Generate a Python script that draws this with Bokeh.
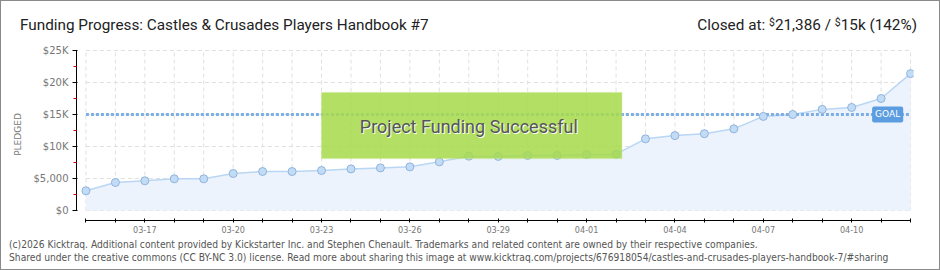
import html
from bokeh.plotting import figure
from bokeh.models import FixedTicker, Label, BoxAnnotation, Range1d, Div
from bokeh.layouts import column
from bokeh.embed import file_html
from bokeh.resources import INLINE

# ---------------- data ----------------
dates = ["03-15", "03-16", "03-17", "03-18", "03-19", "03-20", "03-21", "03-22",
         "03-23", "03-24", "03-25", "03-26", "03-27", "03-28", "03-29", "03-30",
         "03-31", "04-01", "04-02", "04-03", "04-04", "04-05", "04-06", "04-07",
         "04-08", "04-09", "04-10", "04-11", "04-12"]
pledged = [3080, 4380, 4640, 4950, 4950, 5780, 6090, 6090, 6250, 6500, 6660, 6820,
           7600, 8490, 8450, 8600, 8600, 8750, 8800, 11200, 11700, 12000, 12760,
           14700, 15000, 15800, 16100, 17500, 21386]
x_tick_labels = ["03-17", "03-20", "03-23", "03-26", "03-29", "04-01", "04-04", "04-07", "04-10"]
y_ticks = [0, 5000, 10000, 15000, 20000, 25000]
y_tick_labels = ["$0", "$5,000", "$10K", "$15K", "$20K", "$25K"]
y_minor_ticks = [2500, 7500, 12500, 17500, 22500]
goal = 15000
title_text = "Funding Progress: Castles & Crusades Players Handbook #7"
closed_amount = "21,386"
goal_amount = "15k"
closed_pct = "142%"
success_text = "Project Funding Successful"
footer_1 = ("(c)2026 Kicktraq. Additional content provided by Kickstarter Inc. and Stephen Chenault. "
            "Trademarks and related content are owned by their respective companies.")
footer_2 = ("Shared under the creative commons (CC BY-NC 3.0) license. Read more about sharing this image at "
            "www.kicktraq.com/projects/676918054/castles-and-crusades-players-handbook-7/#sharing")

n = len(dates)
xs = list(range(n))
W = 938

p = figure(width=W, height=197, output_backend="svg", toolbar_location=None,
           x_range=Range1d(-0.32, 28.1), y_range=Range1d(-1562, 25312),
           min_border_left=75, min_border_right=26, min_border_top=7, min_border_bottom=18,
           margin=0)
p.xgrid.visible = False
p.ygrid.visible = False
p.outline_line_color = None
p.background_fill_color = "white"
p.border_fill_color = "white"

# grid (dashed, bounded to the data area)
p.segment(x0=xs, y0=[y_ticks[0]] * n, x1=xs, y1=[y_ticks[-1]] * n,
          line_color="#e0e0e0", line_dash="4 3", line_width=1)
p.segment(x0=[xs[0]] * len(y_ticks), y0=y_ticks, x1=[xs[-1]] * len(y_ticks), y1=y_ticks,
          line_color="#e0e0e0", line_dash="4 3", line_width=1)

# area, line
p.varea(x=xs, y1=[0] * n, y2=pledged, fill_color="#ecf3fc")
p.line(xs, pledged, line_color="#b9d6f4", line_width=1.5)
# goal line
p.line([xs[0], xs[-1]], [goal, goal], line_color="#7eaee6", line_width=3, line_dash="3 2")
# markers
p.scatter(xs, pledged, size=8, fill_color="#c3dcf6", line_color="#8fb3dd", line_width=1)

# success box
box = BoxAnnotation(left=8, right=18.2, bottom=8125, top=18440,
                    fill_color="#a6da4c", fill_alpha=0.86,
                    line_color="#c2e585", line_width=1.5, level="overlay")
p.add_layout(box)
p.add_layout(Label(x=13.0, y=13150, text=success_text, text_align="center", text_baseline="middle",
                   text_font="Roboto", text_font_size="18px", text_color="white",
                   x_offset=1, y_offset=-1, level="overlay"))
p.add_layout(Label(x=13.0, y=13150, text=success_text, text_align="center", text_baseline="middle",
                   text_font="Roboto", text_font_size="18px", text_color="#555555",
                   level="overlay"))

# goal tag
p.add_layout(Label(x=27.75, y=goal, text="GOAL", text_align="right", text_baseline="middle",
                   text_font="DejaVu Sans", text_font_size="9px", text_color="white",
                   background_fill_color="#5b9de0", padding=3, border_radius=2))

# axes
xa = p.xaxis[0]
xa.ticker = FixedTicker(ticks=xs, minor_ticks=[])
xa.major_label_overrides = {i: (d if d in x_tick_labels else "") for i, d in enumerate(dates)}
xa.bounds = (xs[0], xs[-1])
xa.major_tick_in = 2
xa.major_tick_out = 2
xa.axis_line_color = "black"
xa.major_tick_line_color = "black"
xa.major_label_text_font = "DejaVu Sans Condensed"
xa.major_label_text_font_size = "9px"
xa.major_label_text_color = "#777777"
xa.major_label_standoff = 3

ya = p.yaxis[0]
ya.ticker = FixedTicker(ticks=y_ticks, minor_ticks=y_minor_ticks)
ya.major_label_overrides = dict(zip(y_ticks, y_tick_labels))
ya.bounds = (y_ticks[0], y_ticks[-1])
ya.major_tick_in = 1
ya.major_tick_out = 4
ya.minor_tick_in = 0
ya.minor_tick_out = 3
ya.minor_tick_line_color = "#dd0000"
ya.axis_line_color = "black"
ya.major_tick_line_color = "black"
ya.major_label_text_font = "DejaVu Sans"
ya.major_label_text_font_size = "10px"
ya.major_label_text_color = "#777777"
ya.major_label_standoff = 4
ya.axis_label = "PLEDGED"
ya.axis_label_text_font = "DejaVu Sans"
ya.axis_label_text_font_size = "9px"
ya.axis_label_text_font_style = "normal"
ya.axis_label_text_color = "#777777"
ya.axis_label_standoff = 8

# header / footer
sup = '<span style="font-size:10.5px;position:relative;top:-4px">$</span>'
header_html = (
    f'<div style="position:relative;width:{W}px;height:40px;font-family:Roboto;color:#222;">'
    f'<span style="position:absolute;left:19px;top:16px;font-size:15.3px;line-height:16px;white-space:nowrap">'
    f'{html.escape(title_text)}</span>'
    f'<span style="position:absolute;right:22px;top:16px;font-size:15.3px;line-height:16px;white-space:nowrap">'
    f'Closed at: {sup}{closed_amount} / {sup}{goal_amount} ({closed_pct})</span></div>'
)
footer_html = (
    f'<div style="position:relative;width:{W}px;height:31px;font-family:\'DejaVu Sans Condensed\';'
    f'font-size:10.2px;line-height:13px;color:#555;">'
    f'<div style="position:absolute;left:8px;top:0px;white-space:nowrap">{html.escape(footer_1)}</div>'
    f'<div style="position:absolute;left:8px;top:13px;white-space:nowrap">{html.escape(footer_2)}</div></div>'
)
header = Div(text=header_html, width=W, height=40, margin=0, disable_math=True)
footer = Div(text=footer_html, width=W, height=31, margin=0, disable_math=True)

layout = column(header, p, footer, spacing=0, margin=0,
                styles={"border": "1px solid #8a8a8a", "background-color": "white"})

open("out.html", "w").write(file_html(layout, INLINE))
